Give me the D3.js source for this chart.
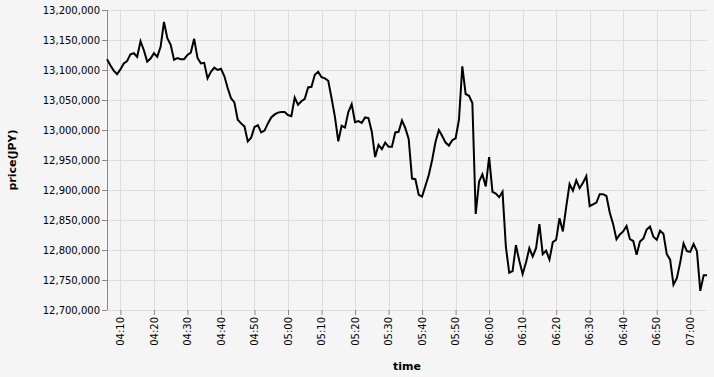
<!DOCTYPE html>
<html>
<head>
<meta charset="utf-8">
<script src="https://cdn.jsdelivr.net/npm/d3@7"></script>
<style>
  body { margin: 0; background: #f5f5f5; }
  text { font-family: "DejaVu Sans", sans-serif; }
</style>
</head>
<body>
<div id="graphId"></div>
<script>
// one price per minute, 04:06 .. 07:05
var startTime = "2021-01-01 04:06";
var endTime = "2021-01-01 07:06";
var prices = [
    13118000, 13108000, 13099000, 13093000, 13101000, 13111000, 13115000, 13126000, 13128000, 13122000,
    13148000, 13133000, 13114000, 13119000, 13128000, 13122000, 13139000, 13180000, 13153000, 13142000,
    13117000, 13120000, 13118000, 13118000, 13125000, 13129000, 13152000, 13120000, 13111000, 13112000,
    13086000, 13097000, 13104000, 13100000, 13102000, 13090000, 13070000, 13053000, 13046000, 13017000,
    13011000, 13006000, 12981000, 12987000, 13005000, 13008000, 12996000, 12999000, 13011000, 13021000,
    13026000, 13029000, 13030000, 13030000, 13025000, 13023000, 13054000, 13042000, 13048000, 13052000,
    13071000, 13072000, 13092000, 13097000, 13088000, 13086000, 13082000, 13053000, 13022000, 12981000,
    13007000, 13004000, 13030000, 13043000, 13013000, 13015000, 13012000, 13021000, 13020000, 12997000,
    12955000, 12975000, 12968000, 12979000, 12972000, 12972000, 12996000, 12997000, 13016000, 13003000,
    12985000, 12919000, 12918000, 12892000, 12889000, 12907000, 12925000, 12950000, 12980000, 13000000,
    12990000, 12979000, 12974000, 12983000, 12986000, 13017000, 13106000, 13060000, 13057000, 13045000,
    12860000, 12914000, 12926000, 12906000, 12955000, 12897000, 12894000, 12888000, 12897000, 12805000,
    12762000, 12765000, 12808000, 12782000, 12760000, 12779000, 12803000, 12789000, 12803000, 12843000,
    12793000, 12799000, 12784000, 12813000, 12817000, 12853000, 12831000, 12872000, 12910000, 12899000,
    12916000, 12903000, 12912000, 12923000, 12873000, 12876000, 12879000, 12893000, 12893000, 12890000,
    12862000, 12843000, 12818000, 12826000, 12831000, 12840000, 12818000, 12815000, 12792000, 12814000,
    12819000, 12834000, 12839000, 12822000, 12817000, 12832000, 12827000, 12793000, 12784000, 12742000,
    12753000, 12779000, 12811000, 12798000, 12797000, 12810000, 12798000, 12732000, 12758000, 12758000
];
var priceDomain = [12700000, 13200000];

var wt = 714;
var ht = 377;
var margin = {
    top: 10,
    right: 7,
    bottom: 67,
    left: 107
};
var width = wt - margin.left - margin.right;
var height = ht - margin.top - margin.bottom;

var parseTime = d3.timeParse("%Y-%m-%d %H:%M");
var times = d3.timeMinute.range(parseTime(startTime), parseTime(endTime));

var data = prices.map(function (v, i) {
    return { time: times[i], value: v };
});

var svg = d3.select("#graphId").append("svg")
    .attr("width", wt)
    .attr("height", ht);

svg.append("rect")
    .attr("width", wt)
    .attr("height", ht)
    .attr("fill", "#f5f5f5");

var g = svg.append("g")
    .attr("transform", "translate(" + margin.left + "," + margin.top + ")");

var x = d3.scaleTime()
    .domain(d3.extent(data, function (d) { return d.time; }))
    .range([0, width]);

var y = d3.scaleLinear()
    .domain(priceDomain)
    .range([height, 0]);

// grid
g.append("g")
    .attr("class", "grid")
    .selectAll("line.gx")
    .data(x.ticks(d3.timeMinute.every(10)))
    .enter().append("line")
    .attr("x1", function (d) { return Math.round(x(d)) + 0.5; })
    .attr("x2", function (d) { return Math.round(x(d)) + 0.5; })
    .attr("y1", 0)
    .attr("y2", height)
    .attr("stroke", "#ddd");

g.append("g")
    .attr("class", "grid")
    .selectAll("line.gy")
    .data(y.ticks(10))
    .enter().append("line")
    .attr("x1", 0)
    .attr("x2", width)
    .attr("y1", function (d) { return Math.round(y(d)) + 0.5; })
    .attr("y2", function (d) { return Math.round(y(d)) + 0.5; })
    .attr("stroke", "#ddd");

// axes
var xAxis = g.append("g")
    .attr("class", "axis axis--x")
    .attr("transform", "translate(0," + height + ")")
    .call(d3.axisBottom(x)
        .ticks(d3.timeMinute.every(10))
        .tickFormat(d3.timeFormat("%H:%M"))
        .tickSize(5)
        .tickPadding(2));
xAxis.select(".domain").remove();
xAxis.selectAll(".tick line").attr("stroke", "#888");
xAxis.selectAll(".tick text")
    .attr("font-size", 10)
    .attr("font-family", "DejaVu Sans, sans-serif")
    .attr("fill", "#000")
    .attr("transform", "rotate(-90)")
    .attr("x", -7)
    .attr("y", 0)
    .attr("dy", "0.32em")
    .style("text-anchor", "end");

var yAxis = g.append("g")
    .attr("class", "axis axis--y")
    .call(d3.axisLeft(y)
        .ticks(10)
        .tickFormat(d3.format(","))
        .tickSize(5)
        .tickPadding(2));
yAxis.select(".domain")
    .attr("stroke", "#888")
    .attr("d", "M0.5," + height + "V0");
yAxis.selectAll(".tick line").attr("stroke", "#888");
yAxis.selectAll(".tick text")
    .attr("font-size", 10)
    .attr("font-family", "DejaVu Sans, sans-serif")
    .attr("fill", "#000");

// titles
g.append("text")
    .attr("x", width / 2)
    .attr("y", height + 60)
    .attr("text-anchor", "middle")
    .attr("font-size", 11)
    .attr("font-weight", "bold")
    .attr("fill", "#000")
    .text("time");

g.append("text")
    .attr("transform", "translate(" + (-91) + "," + (height / 2) + ") rotate(-90)")
    .attr("text-anchor", "middle")
    .attr("font-size", 11)
    .attr("font-weight", "bold")
    .attr("fill", "#000")
    .text("price(JPY)");

// price line
var line = d3.line()
    .x(function (d) { return x(d.time); })
    .y(function (d) { return y(d.value); });

g.append("path")
    .datum(data)
    .attr("class", "line")
    .attr("fill", "none")
    .attr("stroke", "#000")
    .attr("stroke-width", 2)
    .attr("d", line);
</script>
</body>
</html>
